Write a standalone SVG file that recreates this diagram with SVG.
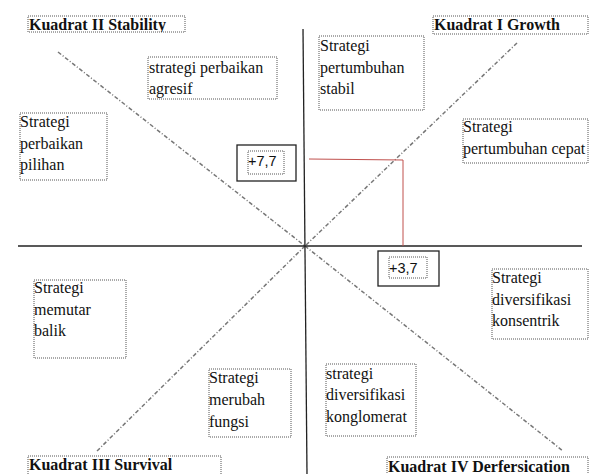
<svg xmlns="http://www.w3.org/2000/svg" width="589" height="474" viewBox="0 0 589 474">
<style>
.box{fill:#fff;stroke:#555;stroke-width:1;stroke-dasharray:1 1}
.t{font-family:"Liberation Serif","Times New Roman",serif;font-size:16px;fill:#111}
.h{font-family:"Liberation Serif","Times New Roman",serif;font-size:16px;font-weight:bold;fill:#111}
.n{font-family:"Liberation Sans",Arial,sans-serif;font-size:14.5px;fill:#111}
.axis{stroke:#222;stroke-width:1.3;fill:none}
.diag{stroke:#777;stroke-width:1.5;stroke-dasharray:4 2 1 2;fill:none}
.red{stroke:#c0504d;stroke-width:1;fill:none}
.vbox{fill:#fff;stroke:#222;stroke-width:1.3}
</style>
<defs>
<clipPath id="c2"><rect x="28" y="16" width="157" height="16"/></clipPath>
<clipPath id="c1"><rect x="433" y="16" width="155" height="18"/></clipPath>
</defs>
<rect width="589" height="474" fill="#fff"/>
<g id="connectors">
<line class="diag" x1="58" y1="52" x2="305" y2="246"/>
<line class="diag" x1="517" y1="43" x2="305" y2="246"/>
<line class="diag" x1="305" y1="246" x2="97" y2="451"/>
<line class="diag" x1="305" y1="246" x2="563" y2="451"/>
<line class="axis" x1="303" y1="29" x2="307" y2="474"/>
<line class="axis" x1="18" y1="246" x2="582" y2="246"/>
<polyline class="red" points="309,159 403,160 403,246"/>
</g>
<g id="kuadrat2">
<rect class="box" x="28" y="16" width="157" height="16"/>
<text class="h" x="29" y="30" clip-path="url(#c2)">Kuadrat II Stability</text>
</g>
<g id="kuadrat1">
<rect class="box" x="433" y="16" width="155" height="18"/>
<text class="h" x="434" y="30" clip-path="url(#c1)">Kuadrat I Growth</text>
</g>
<g id="agresif">
<rect class="box" x="148" y="57" width="129" height="42"/>
<text class="t" x="149" y="73">strategi perbaikan</text>
<text class="t" x="149" y="94">agresif</text>
</g>
<g id="stabil">
<rect class="box" x="319" y="36" width="105" height="74"/>
<text class="t" x="320" y="51">Strategi</text>
<text class="t" x="320" y="73">pertumbuhan</text>
<text class="t" x="320" y="94">stabil</text>
</g>
<g id="pilihan">
<rect class="box" x="20" y="113" width="87" height="67"/>
<text class="t" x="20" y="127">Strategi</text>
<text class="t" x="20" y="149">perbaikan</text>
<text class="t" x="20" y="170">pilihan</text>
</g>
<g id="cepat">
<rect class="box" x="463" y="119" width="125" height="44"/>
<text class="t" x="463" y="132">Strategi</text>
<text class="t" x="463" y="154">pertumbuhan cepat</text>
</g>
<g id="val77">
<rect class="vbox" x="237" y="145" width="59" height="36"/>
<rect class="box" x="248" y="151" width="36" height="23"/>
<text class="n" x="248" y="166">+7,7</text>
</g>
<g id="val37">
<rect class="vbox" x="378" y="251" width="61" height="35"/>
<rect class="box" x="389" y="257" width="38" height="21"/>
<text class="n" x="389" y="273">+3,7</text>
</g>
<g id="konsentrik">
<rect class="box" x="492" y="269" width="96" height="70"/>
<text class="t" x="492" y="283">Strategi</text>
<text class="t" x="492" y="305">diversifikasi</text>
<text class="t" x="492" y="326">konsentrik</text>
</g>
<g id="memutar">
<rect class="box" x="34" y="280" width="92" height="78"/>
<text class="t" x="34" y="293">Strategi</text>
<text class="t" x="34" y="315">memutar</text>
<text class="t" x="34" y="336">balik</text>
</g>
<g id="konglomerat">
<rect class="box" x="326" y="364" width="90" height="72"/>
<text class="t" x="326" y="379">strategi</text>
<text class="t" x="326" y="400">diversifikasi</text>
<text class="t" x="326" y="422">konglomerat</text>
</g>
<g id="fungsi">
<rect class="box" x="209" y="369" width="82" height="68"/>
<text class="t" x="209" y="383">Strategi</text>
<text class="t" x="209" y="405">merubah</text>
<text class="t" x="209" y="427">fungsi</text>
</g>
<g id="kuadrat3">
<rect class="box" x="28" y="456" width="193" height="20"/>
<text class="h" x="29" y="470">Kuadrat III Survival</text>
</g>
<g id="kuadrat4">
<rect class="box" x="387" y="457" width="201" height="20"/>
<text class="h" x="388" y="472">Kuadrat IV Derfersication</text>
</g>
</svg>
